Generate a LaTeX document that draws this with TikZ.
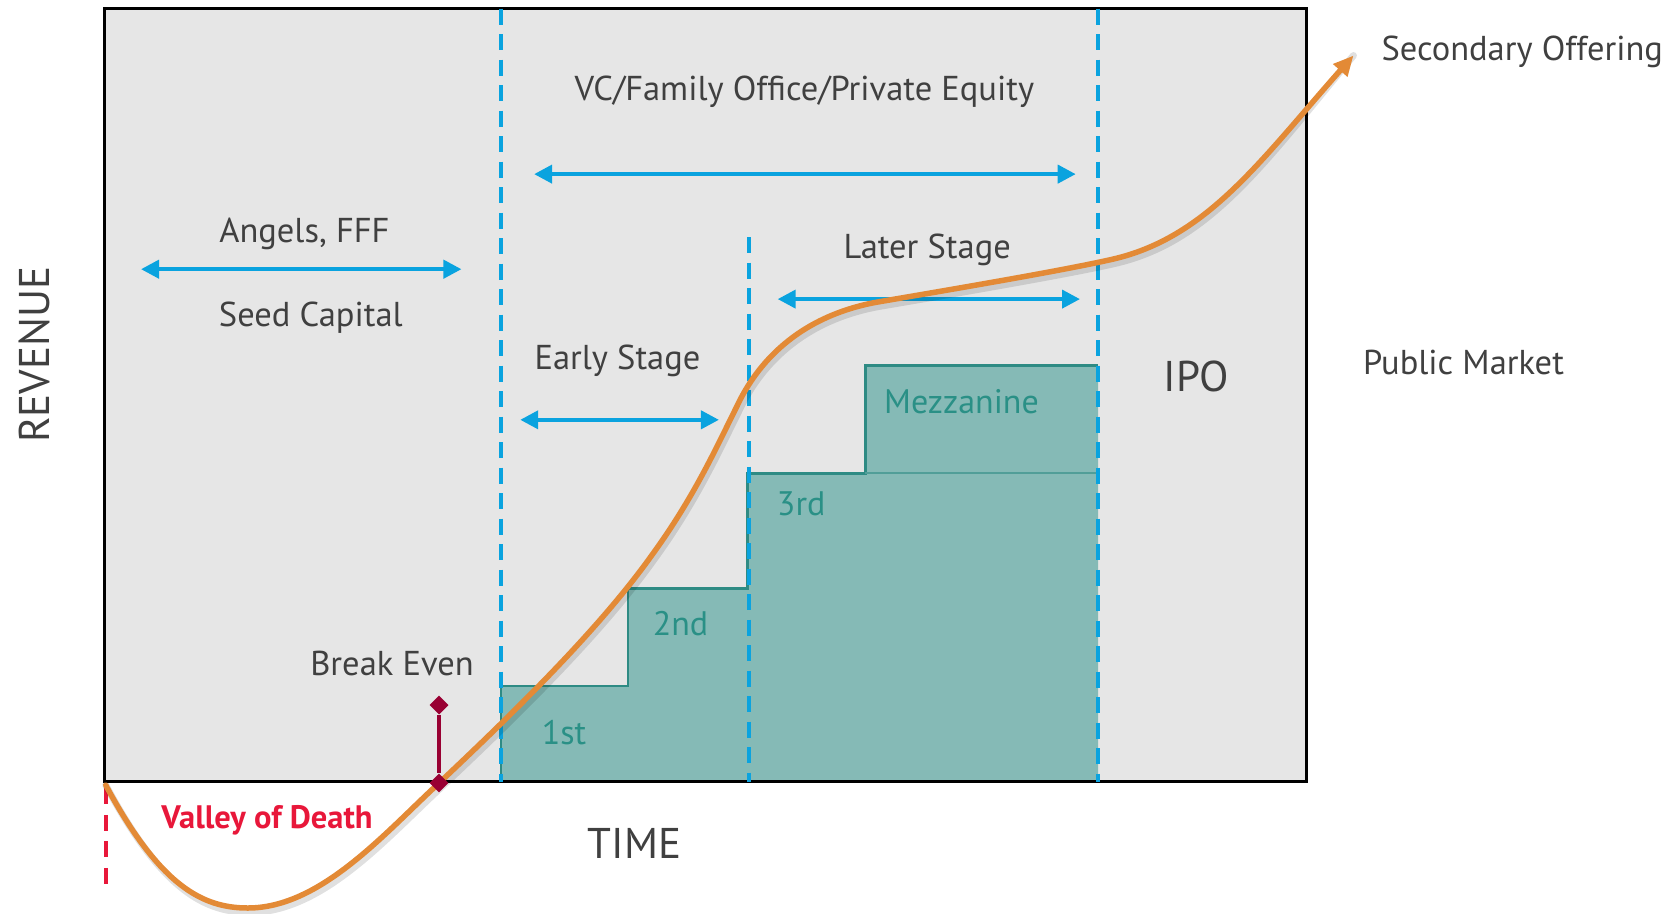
\documentclass[tikz,border=0pt]{standalone}
\usepackage{fontspec}
\setmainfont{PT Sans}
\usetikzlibrary{arrows.meta,shapes.geometric}
\definecolor{boxgrey}{HTML}{E6E6E6}
\definecolor{lineblue}{HTML}{0AA3DF}
\definecolor{stepfill}{HTML}{85BAB6}
\definecolor{stepline}{HTML}{2E8B84}
\definecolor{steptext}{HTML}{2A9086}
\definecolor{curveorange}{HTML}{E38A36}
\definecolor{txtgrey}{HTML}{404040}
\definecolor{bered}{HTML}{990033}
\definecolor{valred}{HTML}{E8173A}
\begin{document}
\begin{tikzpicture}[x=1.06824pt,y=-1.06824pt,
  lbl/.style={text=txtgrey,font=\fontsize{34.5}{40}\selectfont,inner sep=0pt},
  biglbl/.style={text=txtgrey,font=\fontsize{43}{50}\selectfont,inner sep=0pt},
  steplbl/.style={text=steptext,font=\fontsize{34}{40}\selectfont,inner sep=0pt},
  bluedash/.style={draw=lineblue,line width=4pt,dash pattern=on 16pt off 9.5pt},
  dblarrow/.style={draw=lineblue,line width=4pt,{Triangle[length=18pt,width=18pt]}-{Triangle[length=18pt,width=18pt]}},
  curve/.style={draw=curveorange,line width=5.5pt,line cap=round},
  bemark/.style={fill=bered,diamond,minimum size=19pt,inner sep=0pt}]
\useasboundingbox (0,0) rectangle (1568,854.7);
% main box
\draw[fill=boxgrey,draw=black,line width=3pt] (98,8) rectangle (1223,732);
% steps
\fill[stepfill] (469,732) -- (469,642) -- (588,642) -- (588,551) -- (700,551) -- (700,443) -- (810,443) -- (810,342) -- (1028,342) -- (1028,732) -- cycle;
\draw[stepline,line width=2.6pt] (469,732) -- (469,642) -- (588,642) -- (588,551) -- (700,551) -- (700,443) -- (810,443) -- (810,342) -- (1028,342);
\draw[stepline!60!stepfill,line width=1.5pt] (810,443) -- (1028,443);
% box bottom redraw
\draw[black,line width=3pt] (98,732) -- (1223,732);
% coordinates for dashed lines
\coordinate (d1t) at (469,8);
\coordinate (d1b) at (469,732);
\coordinate (d2t) at (701,222);
\coordinate (d2b) at (701,732);
\coordinate (d3t) at (1028,8);
\coordinate (d3b) at (1028,732);
\draw[bluedash] (d1t) -- (d1b);
\draw[bluedash] (d2t) -- (d2b);
\draw[bluedash] (d3t) -- (d3b);
% red dashed
\coordinate (rt) at (99,738);
\coordinate (rb) at (99,832);
\draw[draw=valred,line width=4pt,dash pattern=on 16pt off 10.5pt] (rt) -- (rb);
% double arrows
\coordinate (a1l) at (132,252); \coordinate (a1r) at (432,252);
\coordinate (a2l) at (500,163); \coordinate (a2r) at (1007,163);
\coordinate (a3l) at (487,393); \coordinate (a3r) at (673,393);
\coordinate (a4l) at (728,280); \coordinate (a4r) at (1011,280);
\draw[dblarrow] (a1l) -- (a1r);
\draw[dblarrow] (a2l) -- (a2r);
\draw[dblarrow] (a3l) -- (a3r);
\draw[dblarrow] (a4l) -- (a4r);
% curve
\coordinate (c0) at (99,735);
\coordinate (cend) at (1267,52);
\def\curvepath{(c0)
  .. controls (150,830) and (190,850) .. (232,850)
  .. controls (300,850) and (360,780) .. (411,733)
  .. controls (480,668) and (560,590) .. (610,520)
  .. controls (650,465) and (670,420) .. (690,380)
  .. controls (705,348) and (740,298) .. (820,283)
  .. controls (920,266) and (1000,252) .. (1040,243)
  .. controls (1130,223) and (1180,150) .. (cend)}
\begin{scope}[shift={(2,4)}]
\draw[draw=black,opacity=0.12,line width=7pt,line cap=round] \curvepath;
\end{scope}
\draw[curve,-{Triangle[length=20pt,width=18pt]}] \curvepath;
% break even marker
\node[bemark] (be1) at (411,660) {};
\node[bemark] (be2) at (411,733) {};
\draw[bered,line width=3.5pt] (be1) -- (be2);
% labels
\node[lbl] (vc) at (753,86) {VC/Family Office/Private Equity};
\node[lbl] (ang) at (285,219) {Angels, FFF};
\node[lbl] (seed) at (291,297) {Seed Capital};
\node[lbl] (later) at (868,234) {Later Stage};
\node[lbl] (early) at (578,338) {Early Stage};
\node[lbl] (brk) at (367,621) {Break Even};
\node[lbl] (pub) at (1370,339) {Public Market};
\node[lbl] (sec) at (1425,49) {Secondary Offering};
\node[biglbl] (ipo) at (1120,352) {IPO};
\node[biglbl] (time) at (594,790) {TIME};
\node[biglbl,rotate=90] (rev) at (32,332) {REVENUE};
\node[steplbl] (s1) at (528,686) {1st};
\node[steplbl] (s2) at (637,584) {2nd};
\node[steplbl] (s3) at (750,472) {3rd};
\node[steplbl] (s4) at (900,376) {Mezzanine};
\node[text=valred,font=\fontsize{32.5}{38}\selectfont\bfseries,inner sep=0pt] (vod) at (250,768) {Valley of Death};
\end{tikzpicture}
\end{document}
